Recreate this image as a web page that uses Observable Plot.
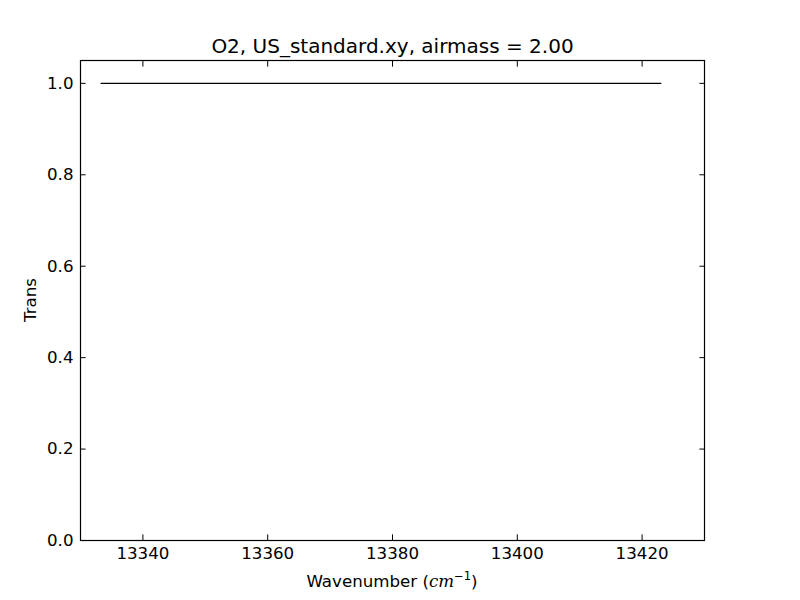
<!DOCTYPE html>
<html>
<head>
<meta charset="utf-8">
<script src="https://cdn.jsdelivr.net/npm/d3@7"></script>
<script src="https://cdn.jsdelivr.net/npm/@observablehq/plot@0.6"></script>
<style>
  html, body { margin: 0; padding: 0; background: white; }
</style>
</head>
<body>
<div id="chart"></div>
<script>
const titleText = "O2, US_standard.xy, airmass = 2.00";
const wavenumber = [13333.3, 13423.0];
const trans = [1.0, 1.0];
const xTicks = [13340, 13360, 13380, 13400, 13420];
const yTicks = [0.0, 0.2, 0.4, 0.6, 0.8, 1.0];

const data = wavenumber.map((w, i) => ({w, t: trans[i]}));
const tickLen = -5.6;

const plot = Plot.plot({
  width: 800,
  height: 600,
  marginLeft: 80,
  marginRight: 96,
  marginTop: 60,
  marginBottom: 60,
  style: {fontFamily: "DejaVu Sans", fontSize: "16.67px", background: "white", color: "black"},
  x: {domain: [13330, 13430]},
  y: {domain: [0, 1.05]},
  marks: [
    Plot.line(data, {x: "w", y: "t", stroke: "black", strokeWidth: 1.3}),
    Plot.axisX({anchor: "bottom", ticks: xTicks, tickSize: tickLen, tickFormat: () => "", label: null, strokeWidth: 1}),
    Plot.axisX({anchor: "top", ticks: xTicks, tickSize: tickLen, tickFormat: () => "", label: null, strokeWidth: 1}),
    Plot.axisY({anchor: "left", ticks: yTicks, tickSize: tickLen, tickFormat: () => "", label: null, strokeWidth: 1}),
    Plot.axisY({anchor: "right", ticks: yTicks, tickSize: tickLen, tickFormat: () => "", label: null, strokeWidth: 1}),
    Plot.axisX({anchor: "bottom", ticks: xTicks, tickSize: 0, tickPadding: 7, tickFormat: d => String(d), label: null, fontSize: 16.67}),
    Plot.axisY({anchor: "left", ticks: yTicks, tickSize: 0, tickPadding: 7, tickFormat: d => d.toFixed(1), label: null, fontSize: 16.67}),
    Plot.frame({stroke: "black", strokeWidth: 1.2}),
    Plot.text([titleText], {frameAnchor: "top", lineAnchor: "bottom", dy: -8, fontSize: 20, fill: "black"})
  ]
});

const svg = d3.select(plot);
const xl = svg.append("text")
  .attr("x", 392).attr("y", 587)
  .attr("text-anchor", "middle")
  .attr("font-size", "16.67px")
  .attr("fill", "black");
xl.append("tspan").text("Wavenumber (");
xl.append("tspan").attr("font-style", "italic").attr("font-family", "DejaVu Serif").text("cm");
xl.append("tspan").attr("dy", -7).attr("font-size", "11.5px").text("−1");
xl.append("tspan").attr("dy", 7).text(")");

svg.append("text")
  .attr("transform", "translate(36,300) rotate(-90)")
  .attr("text-anchor", "middle")
  .attr("font-size", "16.67px")
  .attr("fill", "black")
  .text("Trans");

document.getElementById("chart").appendChild(plot);
</script>
</body>
</html>
